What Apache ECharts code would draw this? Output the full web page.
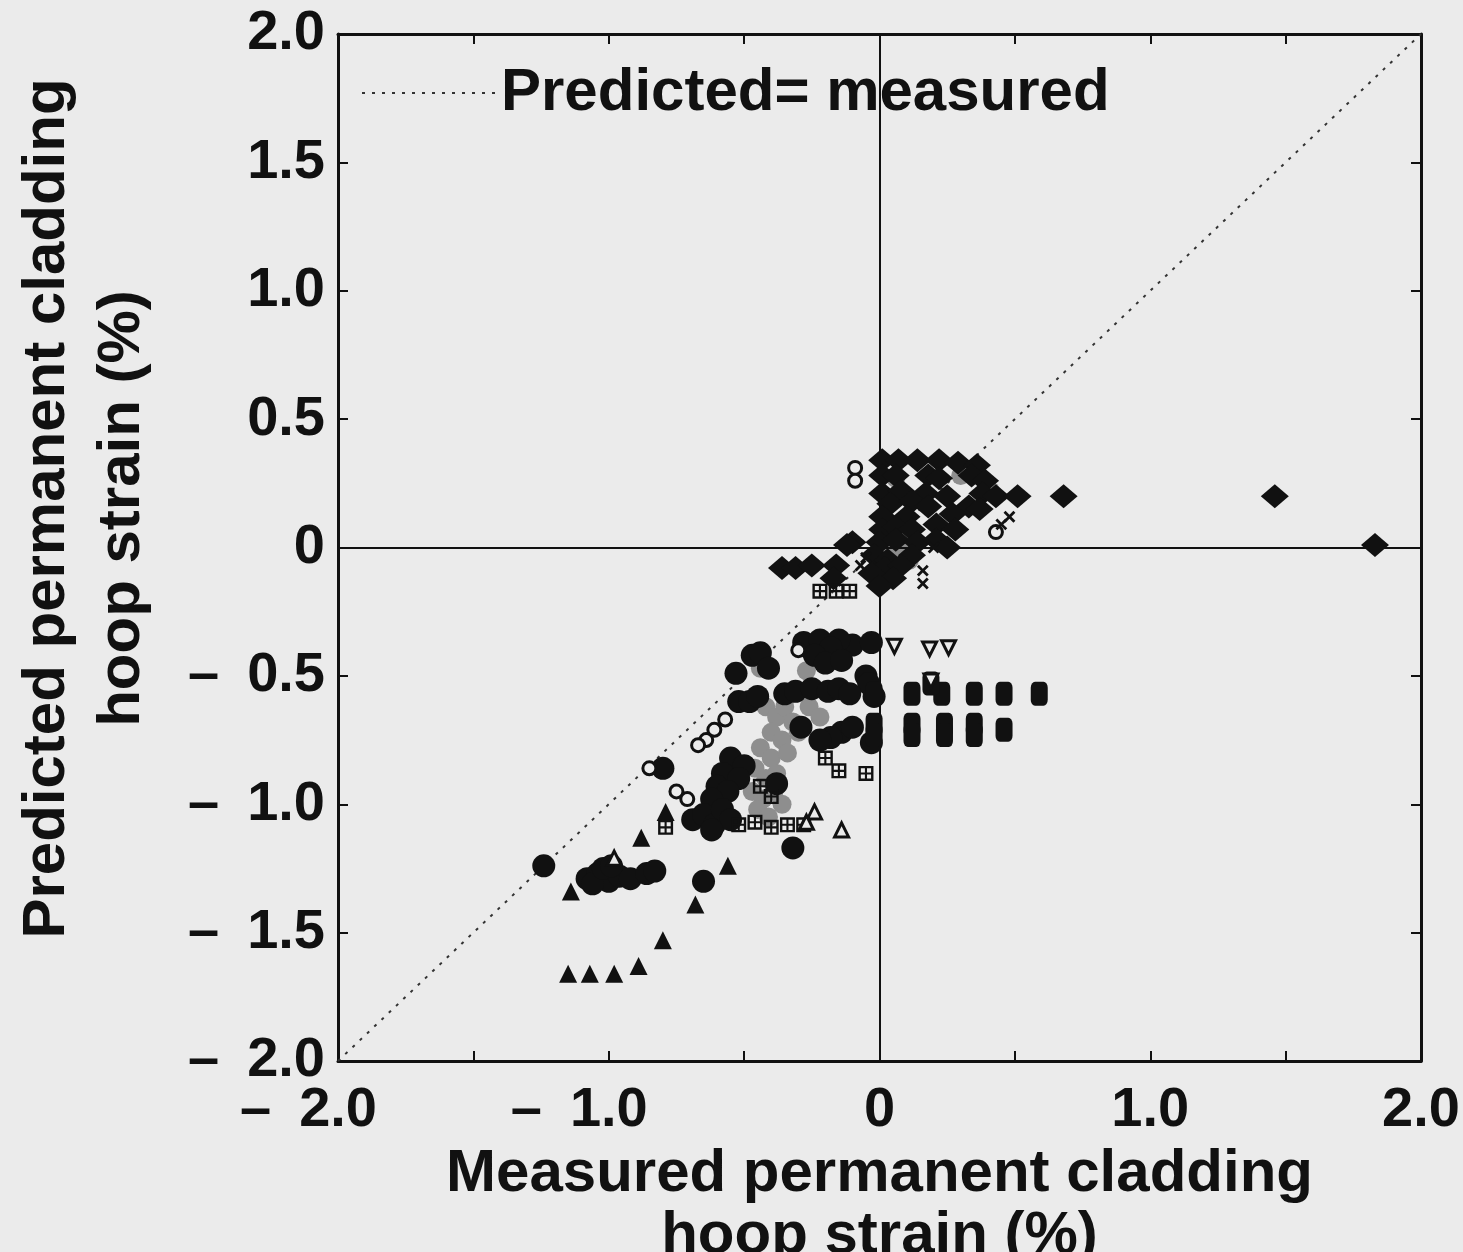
<!DOCTYPE html>
<html><head><meta charset="utf-8">
<script src="https://cdn.jsdelivr.net/npm/echarts@6/dist/echarts.min.js"></script>
<style>html,body{margin:0;padding:0;background:#ebebeb}#c{width:1463px;height:1252px}</style>
</head><body><div id="c"></div>
<script>
// ---- tick labels ----
const xTickValues = [-2, -1, 0, 1, 2];
const xTickLabels = ['\u2013\u20022.0', '\u2013\u20021.0', '0', '1.0', '2.0'];
const yTickValues = [-2, -1.5, -1, -0.5, 0, 0.5, 1, 1.5, 2];
const yTickLabels = ['\u2013\u20022.0', '\u2013\u20021.5', '\u2013\u20021.0', '\u2013\u20020.5', '0', '0.5', '1.0', '1.5', '2.0'];

// ---- reference line ----
const diagonal = [[-2, -2], [2, 2]];

// ---- data (measured %, predicted %) by marker type ----
const filledDiamonds = [
  [0.01,0.34],[0.07,0.34],[0.14,0.34],[0.22,0.34],[0.29,0.33],[0.36,0.32],
  [0.01,0.28],[0.06,0.28],[0.18,0.28],[0.22,0.27],[0.34,0.28],[0.39,0.26],
  [0.01,0.21],[0.08,0.22],[0.17,0.21],[0.25,0.20],[0.38,0.21],[0.43,0.20],[0.51,0.20],
  [0.04,0.17],[0.12,0.18],[0.18,0.16],[0.33,0.16],[0.37,0.15],
  [0.01,0.12],[0.10,0.12],[0.27,0.13],
  [0.21,0.09],[0.28,0.07],[0.01,0.07],[0.06,0.08],[0.12,0.07],
  [-0.10,0.02],[-0.12,0.01],[0.00,0.02],[0.06,0.03],[0.14,0.02],[0.21,0.03],[0.25,0.00],
  [-0.02,-0.03],[0.03,-0.05],[0.12,-0.03],[0.02,-0.08],[0.08,-0.07],[0.05,-0.12],[-0.03,-0.10],[0.00,-0.15],
  [-0.16,-0.07],[-0.17,-0.12],[-0.36,-0.08],[-0.31,-0.08],[-0.25,-0.07],
  [0.68,0.20],[1.46,0.20],[1.83,0.01]
];
const crosses = [[0.48,0.12],[0.45,0.09],[0.16,-0.09],[0.16,-0.14],[0.20,0.00],[-0.07,-0.07],[-0.05,-0.04]];
const openCircles = [
  [0.43,0.06],[-0.09,0.31],[-0.09,0.26],
  [-0.30,-0.40],[-0.57,-0.67],[-0.64,-0.75],[-0.67,-0.77],[-0.85,-0.86],
  [-0.75,-0.95],[-0.71,-0.98],[-0.61,-0.71]
];
const filledCircles = [
  [-0.10,-0.38],[-0.03,-0.37],[-0.05,-0.50],[-0.02,-0.58],[-0.03,-0.76],[-0.04,-0.53],
  [-0.53,-0.49],[-0.47,-0.42],[-0.44,-0.41],[-0.41,-0.47],[-0.26,-0.39],[-0.15,-0.36],[-0.16,-0.43],
  [-0.28,-0.37],[-0.22,-0.36],[-0.18,-0.39],[-0.24,-0.42],[-0.20,-0.45],[-0.14,-0.44],
  [-0.52,-0.60],[-0.48,-0.60],[-0.45,-0.58],[-0.35,-0.57],[-0.31,-0.56],[-0.25,-0.55],[-0.19,-0.56],[-0.15,-0.55],[-0.11,-0.57],
  [-0.14,-0.72],[-0.18,-0.74],[-0.22,-0.75],[-0.29,-0.70],[-0.10,-0.70],
  [-0.55,-0.82],[-0.50,-0.85],[-0.58,-0.88],[-0.52,-0.90],[-0.60,-0.93],[-0.56,-0.95],[-0.62,-0.98],[-0.38,-0.92],
  [-0.69,-1.06],[-0.65,-1.04],[-0.61,-1.08],[-0.58,-1.02],[-0.55,-1.06],[-0.62,-1.10],
  [-0.80,-0.86],
  [-1.24,-1.24],[-0.32,-1.17],[-0.65,-1.30],
  [-1.08,-1.29],[-1.04,-1.27],[-1.00,-1.30],[-0.96,-1.28],[-0.92,-1.29],[-0.86,-1.27],[-0.83,-1.26],
  [-1.06,-1.31],[-1.02,-1.25],[-0.99,-1.24]
];
const grayMarks = [
  [0.02,0.00],[0.07,-0.02],[0.10,0.03],[0.04,-0.06],[0.11,-0.05],[0.30,0.28],[0.41,0.22],[0.06,0.27],
  [-0.22,-0.40],[-0.18,-0.42],[-0.44,-0.47],
  [-0.42,-0.62],[-0.38,-0.66],[-0.35,-0.62],[-0.32,-0.68],[-0.40,-0.72],[-0.36,-0.75],[-0.30,-0.72],
  [-0.44,-0.78],[-0.40,-0.82],[-0.34,-0.80],[-0.46,-0.86],[-0.42,-0.90],[-0.38,-0.88],
  [-0.47,-0.95],[-0.43,-0.98],[-0.39,-0.95],[-0.45,-1.02],[-0.41,-1.05],[-0.36,-1.00],
  [-0.26,-0.62],[-0.22,-0.66],[-0.27,-0.48]
];
const filledSquares = [
  [0.12,-0.57],[0.23,-0.57],[0.35,-0.57],[0.46,-0.57],[0.59,-0.57],[-0.02,-0.57],[0.19,-0.53],
  [-0.02,-0.69],[0.12,-0.69],[0.24,-0.69],[0.35,-0.69],
  [-0.02,-0.73],[0.12,-0.73],[0.24,-0.73],[0.35,-0.73],[0.46,-0.71]
];
const crossSquares = [
  [-0.22,-0.17],[-0.16,-0.17],[-0.11,-0.17],
  [-0.79,-1.09],[-0.20,-0.82],[-0.15,-0.87],[-0.05,-0.88],
  [-0.52,-1.08],[-0.46,-1.07],[-0.40,-1.09],[-0.34,-1.08],[-0.28,-1.08],
  [-0.44,-0.93],[-0.40,-0.97]
];
const filledTriangles = [
  [-0.79,-1.03],[-0.88,-1.13],[-1.14,-1.34],[-0.56,-1.24],[-0.68,-1.39],[-0.80,-1.53],
  [-0.89,-1.63],[-0.98,-1.66],[-1.07,-1.66],[-1.15,-1.66]
];
const openTriangles = [[-0.24,-1.03],[-0.14,-1.10],[-0.98,-1.21],[-0.27,-1.07]];
const invTriangles = [[0.055,-0.385],[0.185,-0.395],[0.255,-0.39],[0.19,-0.52]];

const INK = '#111';
const BG = '#ebebeb';
const FONT = "'Liberation Sans', Arial, sans-serif";

function xLabel(v) {
  const i = xTickValues.indexOf(v);
  if (i < 0) return '';
  // pad negative labels on the right so the number itself sits centred on its tick
  return v < 0 ? xTickLabels[i] + '{p|}' : xTickLabels[i];
}
function yLabel(v) {
  const i = yTickValues.indexOf(v);
  return i >= 0 ? yTickLabels[i] : '';
}

const crossSquarePath = 'path://M0,0H10V10H0Z M1.6,1.6V4.3H4.3V1.6Z M5.7,1.6V4.3H8.4V1.6Z M1.6,5.7V8.4H4.3V5.7Z M5.7,5.7V8.4H8.4V5.7Z';
const crossPath = 'path://M4,0H6V4H10V6H6V10H4V6H0V4H4Z';

const chart = echarts.init(document.getElementById('c'));
const baseAxis = {
  type: 'value', min: -2, max: 2, interval: 0.5, gridIndex: 0,
  axisLine: { show: true, onZero: false, lineStyle: { color: INK, width: 3 } },
  axisTick: { show: true, inside: true, length: 10, lineStyle: { color: INK, width: 2 } },
  splitLine: { show: false }
};

const option = {
  backgroundColor: BG,
  animation: false,
  textStyle: { fontFamily: FONT, color: INK },
  grid: { left: 338, right: 42, top: 34, bottom: 191, containLabel: false, outerBoundsMode: 'none' },
  legend: {
    data: ['Predicted= measured'], left: 356, top: 58,
    itemWidth: 134, itemHeight: 14,
    textStyle: { fontSize: 60, fontWeight: 'bold', color: INK, fontFamily: FONT }
  },
  xAxis: [
    Object.assign({}, baseAxis, {
      position: 'bottom',
      axisLabel: {
        show: true, formatter: xLabel, fontSize: 56, fontWeight: 'bold', color: INK, margin: 22, fontFamily: FONT,
        rich: { p: { width: 59, fontSize: 56 } }
      },
      name: 'Measured permanent cladding\nhoop strain (%)',
      nameLocation: 'middle', nameGap: 66,
      nameTextStyle: { fontSize: 60, fontWeight: 'bold', color: INK, lineHeight: 62, fontFamily: FONT }
    }),
    Object.assign({}, baseAxis, { position: 'top', axisLabel: { show: false } })
  ],
  yAxis: [
    Object.assign({}, baseAxis, {
      position: 'left',
      axisLabel: { show: true, formatter: yLabel, fontSize: 56, fontWeight: 'bold', color: INK, margin: 13, fontFamily: FONT },
      name: 'Predicted permanent cladding\nhoop strain (%)',
      nameLocation: 'middle', nameGap: 178,
      nameTextStyle: { fontSize: 60, fontWeight: 'bold', color: INK, lineHeight: 75, padding: [0, 0, 0, 78], fontFamily: FONT }
    }),
    Object.assign({}, baseAxis, { position: 'right', axisLabel: { show: false } })
  ],
  series: [
    {
      name: 'Predicted= measured', type: 'line', data: diagonal, symbol: 'none', silent: true,
      itemStyle: { color: 'rgba(0,0,0,0)' },
      lineStyle: { color: '#333', width: 2, type: [3, 7] }, z: 1,
      markLine: {
        silent: true, symbol: 'none', label: { show: false },
        lineStyle: { color: INK, width: 2, type: 'solid' },
        data: [{ xAxis: 0 }, { yAxis: 0 }]
      }
    },
    { name: 'gray', type: 'scatter', data: grayMarks, symbol: 'circle', symbolSize: 19, itemStyle: { color: '#8e8e8e', opacity: 1 }, z: 2 },
    { name: 'diamond', type: 'scatter', data: filledDiamonds, symbol: 'diamond', symbolSize: [28, 24], itemStyle: { color: INK, opacity: 1 }, z: 3 },
    { name: 'circle', type: 'scatter', data: filledCircles, symbol: 'circle', symbolSize: 23, itemStyle: { color: INK, opacity: 1 }, z: 3 },
    { name: 'square', type: 'scatter', data: filledSquares, symbol: 'roundRect', symbolSize: [17, 24], itemStyle: { color: INK, opacity: 1 }, z: 3 },
    { name: 'openCircle', type: 'scatter', data: openCircles, symbol: 'circle', symbolSize: 13, itemStyle: { color: BG, borderColor: INK, borderWidth: 3, opacity: 1 }, z: 4 },
    { name: 'crossSquare', type: 'scatter', data: crossSquares, symbol: crossSquarePath, symbolSize: 15, itemStyle: { color: INK, opacity: 1 }, z: 4 },
    { name: 'triangle', type: 'scatter', data: filledTriangles, symbol: 'triangle', symbolSize: 18, itemStyle: { color: INK, opacity: 1 }, z: 4 },
    { name: 'openTriangle', type: 'scatter', data: openTriangles, symbol: 'triangle', symbolSize: 14, itemStyle: { color: BG, borderColor: INK, borderWidth: 3, opacity: 1 }, z: 4 },
    { name: 'invTriangle', type: 'scatter', data: invTriangles, symbol: 'triangle', symbolRotate: 180, symbolSize: 14, itemStyle: { color: BG, borderColor: INK, borderWidth: 3, opacity: 1 }, z: 4 },
    { name: 'cross', type: 'scatter', data: crosses, symbol: crossPath, symbolRotate: 45, symbolSize: 14, itemStyle: { color: INK, opacity: 1 }, z: 4 }
  ]
};
chart.setOption(option);
</script>
</body></html>
